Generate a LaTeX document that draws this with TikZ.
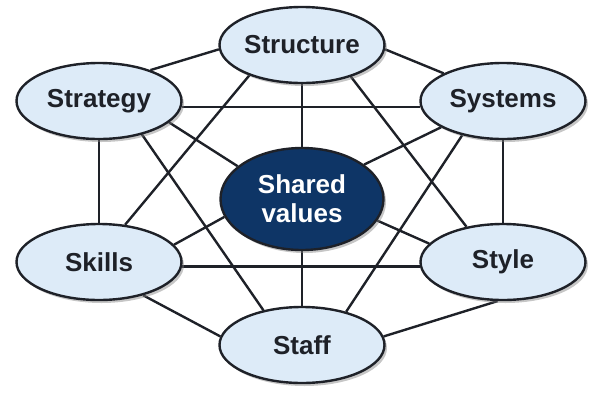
\documentclass[tikz,border=0pt]{standalone}
\usepackage{fontspec}
\setmainfont{Liberation Sans}
\usetikzlibrary{shapes.geometric,shadows,backgrounds}
\definecolor{ovalblue}{HTML}{DDEBF8}
\definecolor{navyblue}{HTML}{0E3566}
\definecolor{inkgray}{HTML}{1E2128}
\tikzset{
  sOval/.style={ellipse,draw=inkgray,line width=2.4pt,fill=ovalblue,
    minimum width=165pt,minimum height=76pt,inner sep=0pt,text=inkgray,
    font=\fontsize{26}{29}\selectfont\bfseries,
    drop shadow={opacity=0.45,shadow xshift=2.5pt,shadow yshift=-3pt}},
  sCore/.style={sOval,fill=navyblue,text=white,align=center,
    minimum width=163pt,minimum height=102pt},
  sLink/.style={line width=2.4pt,draw=inkgray}
}

\begin{document}
\begin{tikzpicture}[x=1pt,y=-1pt]
    \useasboundingbox (0,0) rectangle (600,400);
    % the seven S
    \node[sOval] (structure) at (302,45)  {Structure};
    \node[sOval] (strategy)  at (99,101)  {Strategy};
    \node[sOval] (systems)   at (503,101) {Systems};
    \node[sCore] (shared)    at (302,199) {Shared\\values};
    \node[sOval] (skills)    at (99,262)  {Skills};
    \node[sOval] (style)     at (503,262) {Style};
    \node[sOval] (staff)     at (302,345) {Staff};
    %every S linked to every other
    \begin{scope}[on background layer]
      \foreach \a/\p/\b/\q in {structure/183/strategy/31,structure/-3/systems/155,
          structure/-90/shared/90,structure/210/skills/55,structure/-33.5/style/136,
          strategy/-4.2/systems/184.2,strategy/-17.5/shared/153.8,
          strategy/-90/skills/90,strategy/-38/staff/138,
          systems/203/shared/29.7,systems/-90/style/90,systems/220/staff/37,
          shared/193.5/skills/13,shared/-16/style/166.5,shared/-90/staff/90,
          skills/-3.5/style/183.5,skills/-37/staff/174,style/262/staff/6}
        \draw[sLink] (\a.\p) -- (\b.\q);
    \end{scope}
  \end{tikzpicture}
\end{document}
